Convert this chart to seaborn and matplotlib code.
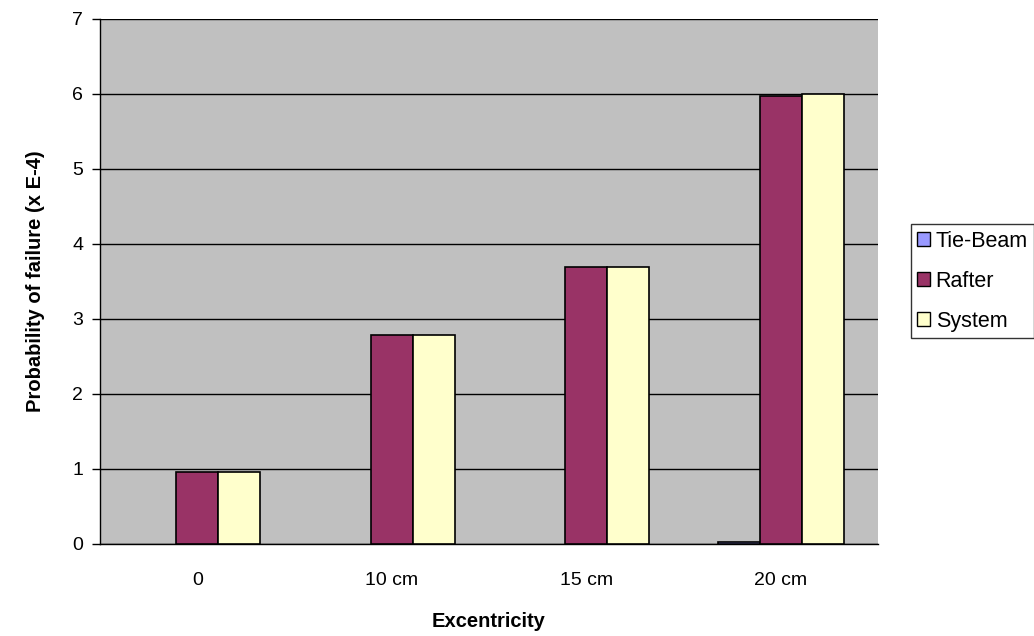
import pandas as pd
import matplotlib.pyplot as plt
import seaborn as sns

categories = ["0", "10 cm", "15 cm", "20 cm"]
tie_beam = [0.0, 0.0, 0.0, 0.02]
rafter = [0.96, 2.78, 3.69, 5.97]
system = [0.96, 2.78, 3.69, 6.0]
series = ["Tie-Beam", "Rafter", "System"]
colors = ["#9999FF", "#993366", "#FFFFCC"]

df = pd.DataFrame({
    "Excentricity": categories * 3,
    "value": tie_beam + rafter + system,
    "series": [s for s in series for _ in categories],
})

sns.set_style("white")
plt.rcParams["font.family"] = ["Liberation Sans", "DejaVu Sans"]
plt.rcParams["text.color"] = "black"
plt.rcParams["xtick.color"] = "black"
plt.rcParams["ytick.color"] = "black"
plt.rcParams["axes.labelcolor"] = "black"

fig = plt.figure(figsize=(10.34, 6.36), dpi=100)
ax = fig.add_axes([0.0967, 0.1447, 0.7524, 0.8255])
ax.set_facecolor("#C0C0C0")

sns.barplot(data=df, x="Excentricity", y="value", hue="series", order=categories,
            hue_order=series, palette=colors, width=0.65, edgecolor="black",
            linewidth=1.2, saturation=1, ax=ax, zorder=3)

# hide outlines of empty bars (legend proxies have zero width, leave them)
for p in ax.patches:
    if p.get_height() == 0 and p.get_width() > 0:
        p.set_linewidth(0)

ax.set_ylim(0, 7)
ax.set_xlim(-0.5, 3.5)
ax.set_yticks(range(0, 8))
ax.yaxis.grid(True, color="black", linewidth=1, zorder=0)
ax.set_axisbelow(True)

# category boundary ticks
ax.set_xticks([-0.5, 0.5, 1.5, 2.5, 3.5], minor=True)
ax.tick_params(axis="x", which="major", length=0, labelsize=14, pad=20)
ax.tick_params(axis="x", which="minor", length=6, width=1, color="black", direction="out")
ax.tick_params(axis="y", length=6, width=1, color="black", direction="out", labelsize=14,
               left=True, pad=6)

for side in ["top", "right"]:
    ax.spines[side].set_visible(False)
for side in ["left", "bottom"]:
    ax.spines[side].set_color("black")
    ax.spines[side].set_linewidth(1)

ax.set_xlabel("Excentricity", fontsize=14.5, fontweight="bold", labelpad=17)
ax.set_ylabel("Probability of failure (x E-4)", fontsize=14.5, fontweight="bold", labelpad=20)

handles, labels = ax.get_legend_handles_labels()
ax.legend_.remove()
leg = fig.legend(handles, labels, loc="center", bbox_to_anchor=(0.9405, 0.558),
                 frameon=True, fancybox=False, edgecolor="black", fontsize=15.5,
                 handlelength=0.6, handleheight=0.6, handletextpad=0.25,
                 borderpad=0.3, labelspacing=0.88, borderaxespad=0)
leg.get_frame().set_linewidth(1)
for h in leg.legend_handles:
    h.set_edgecolor("black")
    h.set_linewidth(1)

fig.savefig("out.png", dpi=100)
